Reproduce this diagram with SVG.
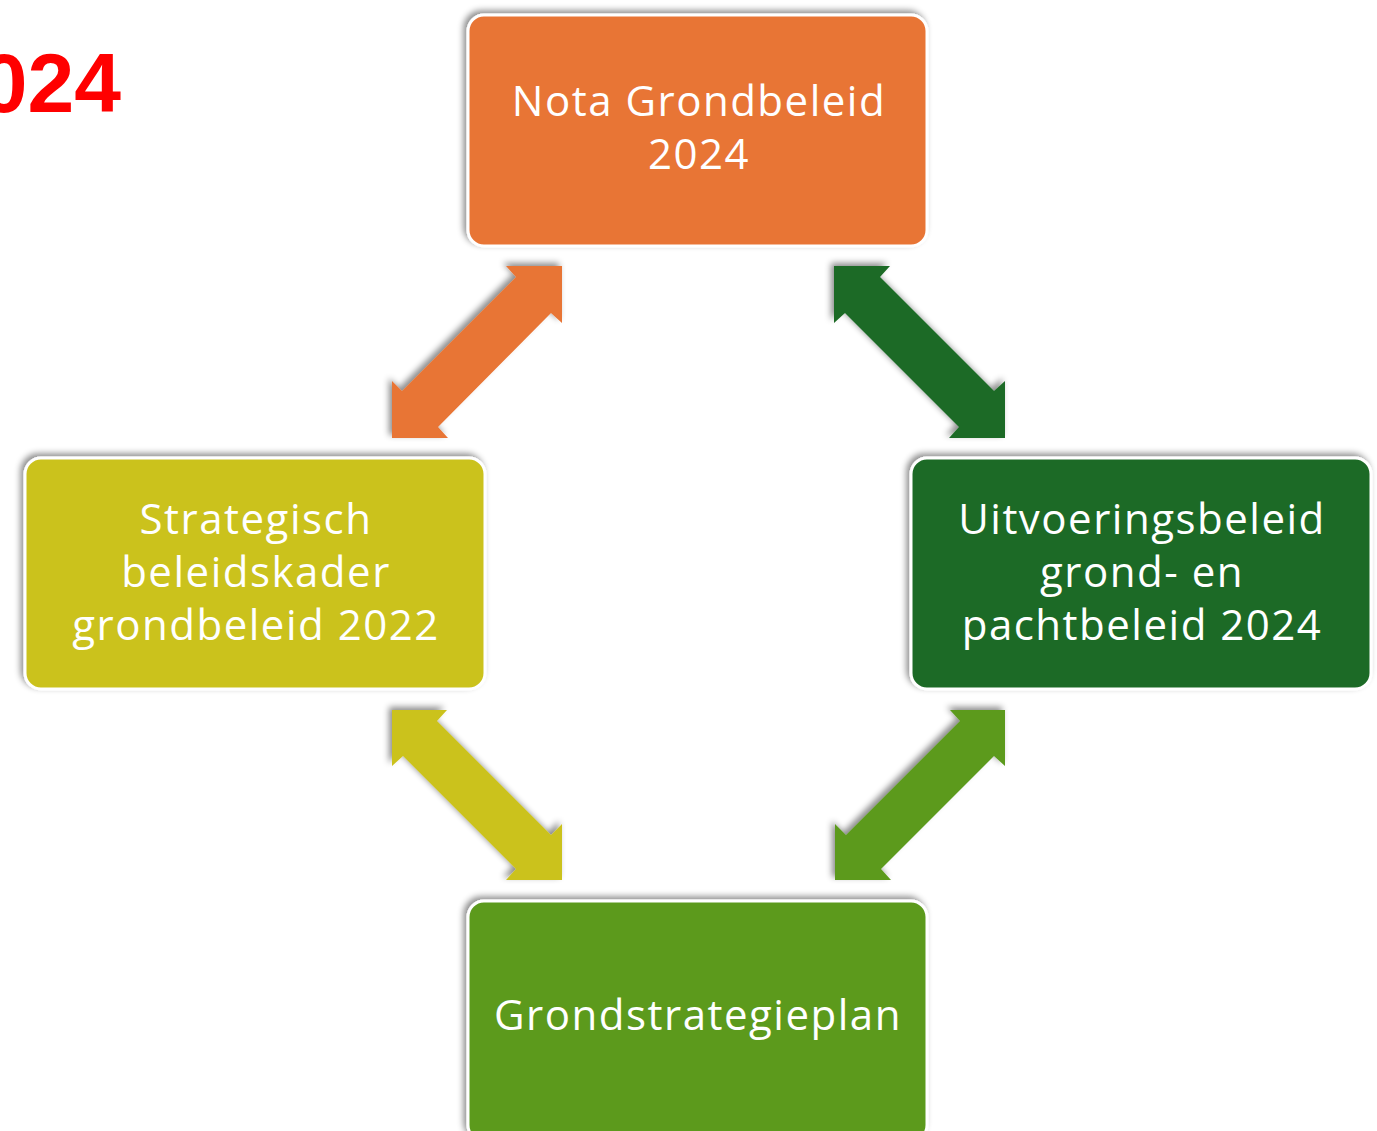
<svg xmlns="http://www.w3.org/2000/svg" width="1377" height="1131" viewBox="0 0 1377 1131">
<style>
.box{stroke:#ffffff;stroke-width:3;filter:url(#sh)}
.lbl{font-family:"Open Sans","Noto Sans","Liberation Sans",sans-serif;font-size:42px;letter-spacing:1.5px;fill:#ffffff;text-anchor:middle}
.arr{filter:url(#sh)}
</style>
<defs>
<filter id="sh" x="-20%" y="-20%" width="140%" height="140%">
<feDropShadow dx="-3" dy="-3" stdDeviation="3" flood-color="#000000" flood-opacity="0.45"/>
</filter>
</defs>
<rect width="1377" height="1131" fill="#ffffff"/>
<text x="121" y="112" font-family="Liberation Sans,Arial,sans-serif" font-weight="bold" font-size="84" fill="#ff0000" text-anchor="end">024</text>
<g id="connectors">
<polygon class="arr" fill="#E87434" points="562,266 506,266 516,277 402,391 392,381 392,438 448,438 438,427 551,313 562,323"/>
<polygon class="arr" fill="#1D6B26" points="834,266 890,266 880,277 994,391 1005,381 1005,438 949,438 959,427 845,313 834,323"/>
<polygon class="arr" fill="#CBC21F" points="392,710 447,710 437,721 551,835 562,824 562,880 506,880 516,869 403,756 392,766"/>
<polygon class="arr" fill="#5B9A1F" points="1005,710 950,710 960,721 846,835 835,824 835,880 891,880 881,869 994,756 1005,766"/>
</g>
<g id="node-nota">
<rect class="box" x="468" y="15" width="459" height="231" rx="16" fill="#E87434"/>
<text class="lbl" x="699" y="116">Nota Grondbeleid</text>
<text class="lbl" x="699" y="169">2024</text>
</g>
<g id="node-strategisch">
<rect class="box" x="25" y="458" width="460" height="231" rx="16" fill="#CBC21F"/>
<text class="lbl" x="256" y="534">Strategisch</text>
<text class="lbl" x="256" y="587">beleidskader</text>
<text class="lbl" x="256" y="640">grondbeleid 2022</text>
</g>
<g id="node-uitvoering">
<rect class="box" x="911" y="458" width="460" height="231" rx="16" fill="#1D6B26"/>
<text class="lbl" x="1142" y="534">Uitvoeringsbeleid</text>
<text class="lbl" x="1142" y="587">grond- en</text>
<text class="lbl" x="1142" y="640">pachtbeleid 2024</text>
</g>
<g id="node-grondstrategieplan">
<rect class="box" x="468" y="901" width="459" height="240" rx="16" fill="#5B9A1F"/>
<text class="lbl" x="698" y="1030">Grondstrategieplan</text>
</g>
</svg>
